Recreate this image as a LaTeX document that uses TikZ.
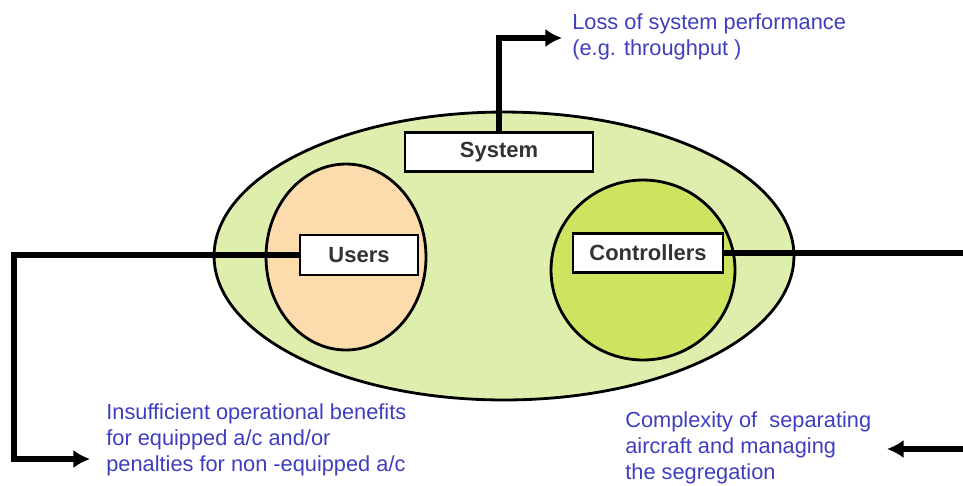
\documentclass[tikz,border=0pt]{standalone}
\usepackage{fontspec}
\setmainfont{Liberation Sans}
\usetikzlibrary{positioning, arrows.meta, shapes}
\definecolor{sysgreen}{RGB}{222,238,172}
\definecolor{userpeach}{RGB}{252,220,172}
\definecolor{ctrlgreen}{RGB}{206,228,96}
\definecolor{effblue}{RGB}{62,62,190}

\begin{document}
\begin{tikzpicture}[x=0.02cm, y=-0.02cm,
	actor/.style={draw, line width=1.4pt, fill=white, text=black!80, inner sep=0pt,
		font=\bfseries\fontsize{12.5}{15}\selectfont},
	effect/.style={anchor=north west, align=left, inner sep=0pt, text=effblue,
		font=\fontsize{12.4}{14.8}\selectfont},
	link/.style={line width=3.5pt},
	tip/.style={-{Latex[length=9.5pt,width=10.5pt]}}]
		\useasboundingbox (0,0) rectangle (963,485);
		% areas
		\draw[line width=1.6pt, fill=sysgreen] (504,256) ellipse [x radius=5.8cm, y radius=2.88cm];
		\draw[line width=1.6pt, fill=userpeach] (346,257) ellipse [x radius=1.6cm, y radius=1.86cm];
		\draw[line width=1.6pt, fill=ctrlgreen] (643,270) ellipse [x radius=1.84cm, y radius=1.8cm];
		% actors
		\node[actor, minimum width=3.76cm, minimum height=0.78cm] (system) at (499,152) {System};
		\node[actor, minimum width=2.36cm, minimum height=0.8cm] (users) at (359,255) {Users};
		\node[actor, minimum width=3cm, minimum height=0.78cm] (controllers) at (648,253) {Controllers};
		% effects
		\node[effect] (loss) at (572,13) {Loss of system performance\\(e.g. throughput )};
		\node[effect] (benefits) at (106,403) {Insufficient operational benefits\\for equipped a/c and/or\\penalties for non -equipped a/c};
		\node[effect] (complexity) at (625,411) {Complexity of\ \ separating\\aircraft and managing\\the segregation};
		
		\coordinate (losstip) at (562,38);
		\coordinate (ubend) at (14,255);
		\coordinate (benefitstip) at (90,459);
		\coordinate (rightedge) at (963,0);
		\coordinate (ctail) at (963,449);
		\coordinate (ctip) at (887,449);
		
		\path[draw, link, tip] (system.north) |- (losstip);
		\path[draw, link, tip] (users.west) -- (ubend) |- (benefitstip);
		\path[draw, link] (controllers.east) -- (controllers.east -| rightedge);
		\path[draw, link, tip] (ctail) -- (ctip);
	\end{tikzpicture}
\end{document}
